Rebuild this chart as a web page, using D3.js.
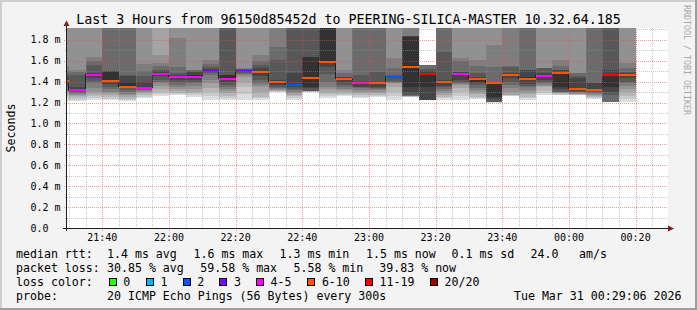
<!DOCTYPE html>
<html>
<head>
<meta charset="utf-8">
<script src="https://cdn.jsdelivr.net/npm/d3@7"></script>
<style>
  body { margin: 0; background: #f3f3f3; }
  svg text { font-family: "DejaVu Sans Mono", monospace; white-space: pre; }
</style>
</head>
<body>
<script>
// ---- data (values in milliseconds) ----
// end time of each 300s step
var barEnds = ["21:30","21:35","21:40","21:45","21:50","21:55",
               "22:00","22:05","22:10","22:15","22:20","22:25","22:30","22:35","22:40","22:45","22:50","22:55",
               "23:00","23:05","23:10","23:15","23:20","23:25","23:30","23:35","23:40","23:45","23:50","23:55",
               "00:00","00:05","00:10","00:15","00:20"];

var medians = [1.41, 1.318, 1.464, 1.41, 1.352, 1.34, 1.477, 1.445, 1.445, 1.505,
               1.429, 1.505, 1.496, 1.40, 1.372, 1.438, 1.591, 1.426, 1.391, 1.391,
               1.448, 1.544, 1.477, 1.40, 1.477, 1.429, 1.391, 1.467, 1.429, 1.458,
               1.486, 1.334, 1.324, 1.467, 1.467];

// lost pings out of 20
var losses = [7, 4, 5, 6, 7, 4, 5, 4, 5, 3,
              4, 3, 6, 8, 2, 7, 9, 6, 5, 7,
              2, 8, 12, 7, 4, 6, 7, 6, 7, 5,
              6, 7, 8, 12, 8];

// the 20 ranked ping times of every step (2.0 = above the top of the graph, null = unknown)
var pings = [
  [1.21,1.23,1.26,1.28,1.30,1.32,1.35,1.37,1.39,1.40, 1.42,1.44,1.47,1.50,1.55,2,2,2,2,2],
  [1.21,1.22,1.24,1.26,1.27,1.28,1.29,1.30,1.31,1.315, 1.33,1.35,1.46,1.49,1.51,2,2,2,2,2],
  [1.225,1.24,1.26,1.28,1.305,1.34,1.385,1.41,1.43,1.455, 1.475,1.48,1.56,1.60,1.64,2,2,2,2,2],
  [1.22,1.235,1.25,1.27,1.29,1.305,1.33,1.352,1.38,1.40, 1.49,1.50,1.505,2,2,2,2,2,2,2],
  [1.215,1.22,1.235,1.257,1.27,1.285,1.30,1.32,1.335,1.345, 1.40,1.456,1.46,2,2,2,2,2,2,2],
  [1.242,1.255,1.273,1.29,1.305,1.31,1.32,1.33,1.335,1.338, 1.35,1.40,1.45,1.50,1.57,2,2,2,2,2],
  [1.26,1.28,1.305,1.33,1.36,1.385,1.40,1.42,1.45,1.47, 1.485,1.50,1.51,1.55,1.576,1.655,2,2,2,2],
  [1.27,1.28,1.29,1.31,1.33,1.352,1.37,1.40,1.42,1.44, 1.45,1.46,1.48,1.544,1.815,2,2,2,2,2],
  [1.25,1.27,1.29,1.305,1.33,1.36,1.385,1.40,1.42,1.44, 1.46,1.49,1.505,1.51,1.512,2,2,2,2,2],
  [1.225,1.26,1.305,1.34,1.385,1.42,1.46,1.48,1.49,1.50, 1.51,1.52,1.544,1.57,1.607,2,2,2,2,2],
  [1.225,1.24,1.26,1.289,1.31,1.33,1.35,1.369,1.40,1.425, 1.464,1.465,2,2,2,2,2,2,2,2],
  [1.225,1.28,1.352,1.40,1.448,1.46,1.47,1.48,1.49,1.50, 1.51,1.515,1.52,1.525,1.528,2,2,2,2,2],
  [1.225,1.24,1.257,1.30,1.352,1.37,1.385,1.416,1.45,1.49, 1.50,1.53,1.56,1.60,1.655,2,2,2,2,2],
  [1.30,1.305,1.31,1.315,1.321,1.33,1.34,1.352,1.37,1.39, 1.41,1.416,1.607,1.735,2,2,2,2,2,2],
  [1.225,1.242,1.26,1.273,1.29,1.305,1.321,1.33,1.345,1.365, 1.38,1.48,2,2,2,2,2,2,2,2],
  [1.30,1.302,1.304,1.306,1.308,1.31,1.312,1.315,1.34,1.352, 1.639,1.64,2,2,2,2,2,2,2,2],
  [1.242,1.26,1.28,1.305,1.33,1.352,1.401,1.47,1.54,1.585, 2,2,2,2,2,2,2,2,2,2],
  [1.265,1.27,1.28,1.30,1.321,1.33,1.345,1.369,1.40,1.42, 1.43,1.44,1.448,1.48,1.512,2,2,2,2,2],
  [1.242,1.255,1.273,1.29,1.305,1.32,1.335,1.345,1.352,1.385, 1.395,1.40,1.464,2,2,2,2,2,2,2],
  [1.25,1.26,1.273,1.29,1.305,1.32,1.33,1.34,1.352,1.385, 1.395,1.40,1.496,2,2,2,2,2,2,2],
  [1.225,1.26,1.305,1.345,1.385,1.39,1.40,1.41,1.43,1.445, 1.452,1.458,1.464,1.528,1.624,2,2,2,2,2],
  [1.255,1.256,1.257,1.258,1.259,1.26,1.26,1.275,1.289,1.352, 1.83,1.832,1.835,1.84,2,2,2,2,2,2],
  [null,null,null,null,null,null,1.222,1.224,1.225,1.352, 1.48,1.50,1.52,1.56,null,null,null,null,null,null],
  [1.225,1.24,1.25,1.273,1.29,1.31,1.33,1.352,1.36,1.395, 1.405,1.416,1.687,2,2,2,2,2,2,2],
  [1.225,1.26,1.305,1.335,1.369,1.38,1.39,1.40,1.42,1.47, 1.485,1.49,1.496,1.60,1.624,2,2,2,2,2],
  [1.235,1.245,1.257,1.28,1.305,1.32,1.34,1.369,1.39,1.40, 1.435,1.44,1.48,1.55,1.607,2,2,2,2,2],
  [1.20,1.202,1.203,1.204,1.205,1.206,1.208,1.209,1.23,1.257, 1.395,1.398,1.40,1.544,1.751,2,2,2,2,2],
  [1.26,1.265,1.27,1.273,1.30,1.337,1.37,1.401,1.43,1.46, 1.47,1.48,1.544,1.545,2,2,2,2,2,2],
  [1.225,1.24,1.257,1.28,1.305,1.32,1.352,1.36,1.38,1.425, 1.44,1.512,1.513,2,2,2,2,2,2,2],
  [1.273,1.29,1.31,1.352,1.36,1.37,1.385,1.40,1.42,1.45, 1.465,1.48,1.528,1.529,1.53,2,2,2,2,2],
  [1.27,1.273,1.28,1.29,1.295,1.30,1.303,1.305,1.33,1.352, 1.49,1.512,1.513,1.55,1.607,2,2,2,2,2],
  [1.27,1.273,1.275,1.28,1.285,1.29,1.30,1.305,1.31,1.33, 1.34,1.433,1.45,1.48,1.481,2,2,2,2,2],
  [1.23,1.24,1.25,1.26,1.273,1.28,1.29,1.30,1.31,1.32, 1.33,1.385,1.386,2,2,2,2,2,2,2],
  [null,null,null,null,null,null,1.209,1.273,1.30,1.352, 1.47,1.512,2,2,null,null,null,null,null,null],
  [1.209,1.23,1.26,1.305,1.33,1.36,1.385,1.40,1.43,1.46, 1.47,1.48,1.496,1.53,1.576,2,2,2,2,2]
];

var yTicks = [0, 0.2, 0.4, 0.6, 0.8, 1.0, 1.2, 1.4, 1.6, 1.8];
var xTicks = ["21:40","22:00","22:20","22:40","23:00","23:20","23:40","00:00","00:20"];

var lossBins   = [0, 1, 2, 3, 5, 10, 19, 20];
var lossLabels = ["0", "1", "2", "3", "4-5", "6-10", "11-19", "20/20"];
var lossColors = ["#26ff00", "#00b8ff", "#0059ff", "#7e00ff", "#ff00ff", "#ff5500", "#ff0000", "#a10000"];

var title = "Last 3 Hours from 96150d85452d to PEERING-SILICA-MASTER 10.32.64.185";
var statRows = [
  ["median rtt:", "1.4 ms avg", "1.6 ms max", "1.3 ms min", "1.5 ms now", "0.1 ms sd", "24.0", "am/s"],
  ["packet loss:", "30.85 % avg", "59.58 % max", "5.58 % min", "39.83 % now"]
];
var probeText = ["probe:", "20 ICMP Echo Pings (56 Bytes) every 300s"];
var stamp = "Tue Mar 31 00:29:06 2026";
var watermark = "RRDTOOL / TOBI OETIKER";

// ---- layout ----
var W = 697, H = 310;
var plotLeft = 67, plotTop = 28, plotW = 600, plotH = 200;
var statX = [[16, 107, 193.5, 279.5, 366, 451.5, 530.5, 579],
             [16, 107, 200.3, 293.5, 379.3]];
var boxX = [108.7, 146, 182.7, 219.3, 256, 307.3, 365, 430];

var svg = d3.select("body").append("svg")
    .attr("width", W)
    .attr("height", H);

// background with rrdtool style shading
svg.append("rect").attr("width", W).attr("height", H).attr("fill", "#f3f3f3");
svg.append("rect").attr("x", 0).attr("y", 0).attr("width", W).attr("height", 2).attr("fill", "#cfcfcf");
svg.append("rect").attr("x", 0).attr("y", 0).attr("width", 2).attr("height", H).attr("fill", "#cfcfcf");
svg.append("rect").attr("x", 0).attr("y", H - 2).attr("width", W).attr("height", 2).attr("fill", "#9e9e9e");
svg.append("rect").attr("x", W - 2).attr("y", 0).attr("width", 2).attr("height", H).attr("fill", "#9e9e9e");

function toTime(s) {
    var h = +s.slice(0, 2), m = +s.slice(3);
    return new Date(2026, 2, h < 12 ? 31 : 30, h, m);
}

var tEnd = new Date(2026, 2, 31, 0, 29, 25);
var tStart = new Date(tEnd.getTime() - 3 * 3600 * 1000);

var xScale = d3.scaleTime().domain([tStart, tEnd]).range([plotLeft, plotLeft + plotW]);
var yScale = d3.scaleLinear().domain([0, 1.913]).range([plotTop + plotH, plotTop]);

// canvas
svg.append("rect")
    .attr("x", plotLeft).attr("y", plotTop)
    .attr("width", plotW + 1).attr("height", plotH)
    .attr("fill", "#ffffff");

svg.append("defs").append("clipPath").attr("id", "clip")
  .append("rect")
    .attr("x", plotLeft).attr("y", plotTop)
    .attr("width", plotW).attr("height", plotH);

var main = svg.append("g").attr("clip-path", "url(#clip)");

var bars = barEnds.map(function(s, i) {
    var t1 = toTime(s);
    return {t0: new Date(t1.getTime() - 300000), t1: t1, median: medians[i], loss: losses[i], p: pings[i]};
});

// smoke: band b spans ranked ping b .. ping 21-b
bars.forEach(function(d) {
    for (var b = 1; b <= 10; b++) {
        var lo = d.p[b - 1], hi = d.p[20 - b];
        if (lo == null || hi == null) continue;
        var g = Math.floor(190 / 10 * (10 - b)) + 50;
        main.append("rect")
            .attr("x", xScale(d.t0))
            .attr("width", xScale(d.t1) - xScale(d.t0))
            .attr("y", yScale(hi))
            .attr("height", yScale(lo) - yScale(hi))
            .attr("fill", d3.rgb(g, g, g))
            .attr("shape-rendering", "crispEdges");
    }
});

// median step line
var pts = [];
bars.forEach(function(d) {
    pts.push([xScale(d.t0), yScale(d.median)]);
    pts.push([xScale(d.t1), yScale(d.median)]);
});
main.append("path")
    .attr("d", d3.line()(pts))
    .attr("fill", "none")
    .attr("stroke", "#202020")
    .attr("stroke-width", 1)
    .attr("shape-rendering", "crispEdges");

function lossColor(n) {
    for (var i = 0; i < lossBins.length; i++) if (n <= lossBins[i]) return lossColors[i];
    return lossColors[lossColors.length - 1];
}

main.selectAll(".med")
    .data(bars)
    .enter().append("rect")
    .attr("class", "med")
    .attr("x", function(d) { return xScale(d.t0); })
    .attr("width", function(d) { return xScale(d.t1) - xScale(d.t0); })
    .attr("y", function(d) { return yScale(d.median) - 1; })
    .attr("height", 2)
    .attr("fill", function(d) { return lossColor(d.loss); })
    .attr("shape-rendering", "crispEdges");

// grid, drawn over the smoke like rrdtool does
var grid = svg.append("g").attr("shape-rendering", "crispEdges");
var minorCol = "rgba(143,143,143,0.5)", majorCol = "rgba(222,79,79,0.55)";

d3.timeMinute.every(5).range(tStart, tEnd).forEach(function(t) {
    var major = t.getMinutes() % 20 === 0;
    var xp = Math.round(xScale(t)) + 0.5;
    grid.append("line")
        .attr("x1", xp).attr("x2", xp)
        .attr("y1", plotTop).attr("y2", plotTop + plotH + (major ? 3 : 2))
        .attr("stroke", major ? majorCol : minorCol)
        .attr("stroke-dasharray", "1,1");
});

d3.range(1, 20).forEach(function(i) {
    var v = i / 10, major = i % 2 === 0;
    var yp = Math.round(yScale(v)) + 0.5;
    grid.append("line")
        .attr("x1", plotLeft - (major ? 3 : 2)).attr("x2", plotLeft + plotW + 1)
        .attr("y1", yp).attr("y2", yp)
        .attr("stroke", major ? majorCol : minorCol)
        .attr("stroke-dasharray", "1,1");
});

// axes
svg.append("line")
    .attr("x1", plotLeft - 4).attr("x2", plotLeft + plotW + 2)
    .attr("y1", plotTop + plotH + 0.5).attr("y2", plotTop + plotH + 0.5)
    .attr("stroke", "#1f1f1f").attr("shape-rendering", "crispEdges");
svg.append("line")
    .attr("x1", plotLeft - 0.5).attr("x2", plotLeft - 0.5)
    .attr("y1", plotTop + plotH + 3).attr("y2", plotTop - 2)
    .attr("stroke", "#1f1f1f").attr("shape-rendering", "crispEdges");
svg.append("path")
    .attr("d", "M" + (plotLeft + plotW + 1) + "," + (plotTop + plotH - 2.5) +
               "L" + (plotLeft + plotW + 7) + "," + (plotTop + plotH + 0.5) +
               "L" + (plotLeft + plotW + 1) + "," + (plotTop + plotH + 3.5) + "Z")
    .attr("fill", "#7f1f1f");
svg.append("path")
    .attr("d", "M" + (plotLeft - 3.5) + "," + (plotTop - 2) +
               "L" + (plotLeft - 0.5) + "," + (plotTop - 7.5) +
               "L" + (plotLeft + 2.5) + "," + (plotTop - 2) + "Z")
    .attr("fill", "#7f1f1f");

// tick labels
svg.selectAll(".ylab")
    .data(yTicks)
    .enter().append("text")
    .attr("class", "ylab")
    .attr("x", 30.5)
    .attr("y", function(d) { return yScale(d) + 3.6; })
    .attr("font-size", "10px")
    .attr("fill", "#000")
    .text(function(d) { return d === 0 ? "0.0" : d.toFixed(1) + " m"; });

svg.selectAll(".xlab")
    .data(xTicks)
    .enter().append("text")
    .attr("class", "xlab")
    .attr("x", function(d) { return xScale(toTime(d)); })
    .attr("y", 241)
    .attr("text-anchor", "middle")
    .attr("font-size", "10px")
    .attr("fill", "#000")
    .text(function(d) { return d; });

// title, y label, watermark
svg.append("text")
    .attr("x", W / 2)
    .attr("y", 24)
    .attr("text-anchor", "middle")
    .attr("font-size", "13.3px")
    .attr("fill", "#000")
    .text(title);

svg.append("text")
    .attr("transform", "translate(15," + (plotTop + plotH / 2) + ") rotate(-90)")
    .attr("text-anchor", "middle")
    .attr("font-size", "11.6px")
    .attr("fill", "#000")
    .text("Seconds");

svg.append("text")
    .attr("transform", "translate(684,5) rotate(90)")
    .attr("font-size", "8.3px")
    .attr("fill", "#a8a8a8")
    .text(watermark);

// legend
statRows.forEach(function(row, r) {
    row.forEach(function(s, c) {
        svg.append("text")
            .attr("x", statX[r][c])
            .attr("y", 258 + r * 14)
            .attr("font-size", "11.6px")
            .attr("fill", "#000")
            .text(s);
    });
});

svg.append("text")
    .attr("x", 16).attr("y", 286)
    .attr("font-size", "11.6px").attr("fill", "#000")
    .text("loss color:");

lossLabels.forEach(function(lab, i) {
    svg.append("rect")
        .attr("x", Math.round(boxX[i]) + 0.5)
        .attr("y", 278.5)
        .attr("width", 7).attr("height", 7)
        .attr("fill", lossColors[i])
        .attr("stroke", "#000")
        .attr("shape-rendering", "crispEdges");
    svg.append("text")
        .attr("x", boxX[i] + 14.6)
        .attr("y", 286)
        .attr("font-size", "11.6px").attr("fill", "#000")
        .text(lab);
});

svg.append("text")
    .attr("x", 16).attr("y", 300)
    .attr("font-size", "11.6px").attr("fill", "#000")
    .text(probeText[0]);
svg.append("text")
    .attr("x", 107).attr("y", 300)
    .attr("font-size", "11.6px").attr("fill", "#000")
    .text(probeText[1]);
svg.append("text")
    .attr("x", 681.5).attr("y", 300)
    .attr("text-anchor", "end")
    .attr("font-size", "11.6px").attr("fill", "#000")
    .text(stamp);
</script>
</body>
</html>
